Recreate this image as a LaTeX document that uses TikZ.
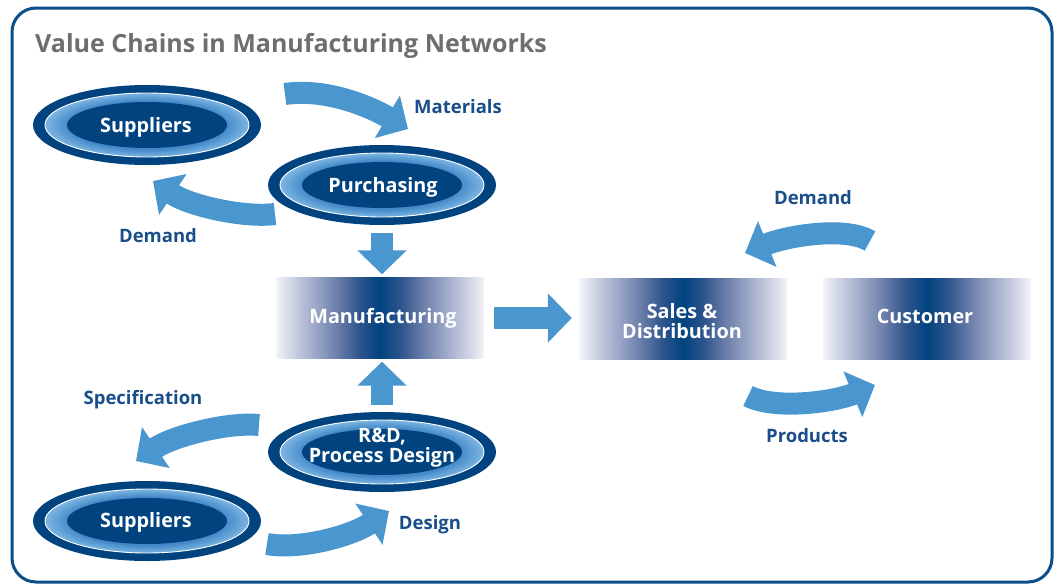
\documentclass[tikz,border=0pt]{standalone}
\usepackage{fontspec}
\setmainfont{Open Sans}
\usetikzlibrary{arrows.meta,shapes.geometric}
\definecolor{navy}{HTML}{00437F}
\definecolor{lblue}{HTML}{4A97CF}
\definecolor{ringlo}{HTML}{4389C8}
\definecolor{ringhi}{HTML}{7DB6E3}
\definecolor{lbl}{HTML}{1A4E8A}
\definecolor{ttl}{HTML}{6D6E71}
\definecolor{framec}{HTML}{0B4E8C}
\definecolor{bzero}{HTML}{F4F5F9}
\definecolor{bhalf}{HTML}{DADEEB}
\definecolor{bone}{HTML}{B7BED6}
\definecolor{btwo}{HTML}{6D80AB}
\definecolor{bthree}{HTML}{2F548C}
\pgfdeclarehorizontalshading{barshade}{100bp}{color(0bp)=(bzero); color(25bp)=(bzero); color(27.5bp)=(bhalf); color(31.5bp)=(bone); color(39.5bp)=(btwo); color(45bp)=(bthree); color(50bp)=(navy); color(55bp)=(bthree); color(60.5bp)=(btwo); color(68.5bp)=(bone); color(72.5bp)=(bhalf); color(75bp)=(bzero); color(100bp)=(bzero)}
\pgfdeclareradialshading{ringshade}{\pgfpoint{0bp}{0bp}}{color(0bp)=(ringlo); color(19bp)=(ringlo); color(25bp)=(ringhi); color(50bp)=(ringhi)}
\tikzset{
  ovalout/.style={ellipse, fill=navy, minimum width=228pt, minimum height=80pt, inner sep=0pt},
  ovalring/.style={ellipse, draw=white, line width=0.9pt, shading=ringshade, minimum width=204pt, minimum height=64pt, inner sep=0pt},
  ovalin/.style={ellipse, fill=navy, minimum width=160pt, minimum height=46pt, inner sep=0pt},
  nodetxt/.style={text=white, font=\bfseries\fontsize{19.8}{20}\selectfont, align=center, inner sep=0pt},
  bar/.style={rectangle, shading=barshade, minimum width=208pt, minimum height=81pt, inner sep=0pt},
  lbltxt/.style={text=lbl, font=\bfseries\fontsize{18.5}{20}\selectfont, inner sep=0pt},
  barrow/.style={draw=lblue, line width=22pt, -{Triangle[width=48pt,length=24pt]}}
}
\newcommand\ovalunit[3]{%
  \node[ovalout] (#1) at (#2,#3) {};
  \node[ovalring] (#1-r) at (#2,#3) {};
  \node[ovalin] (#1-i) at (#2,#3) {};
}
\begin{document}
\begin{tikzpicture}[x=1pt,y=-1pt]
\useasboundingbox (0,0) rectangle (1060,584);
\draw[framec, line width=3pt, rounded corners=24pt] (12,8) rectangle (1052,582);
\node[anchor=base west, text=ttl, font=\bfseries\fontsize{25}{28}\selectfont, inner sep=0pt] (title) at (35,52) {Value Chains in Manufacturing Networks};

% main boxes
\node[bar] (manu) at (380,318) {};
\node[bar] (sales) at (683,319) {};
\node[bar] (cust) at (927,319) {};

% ovals
\ovalunit{supA}{147}{125}
\ovalunit{purch}{382}{185}
\ovalunit{rnd}{382}{452}
\ovalunit{supB}{147}{521}

% texts in shapes
\node[nodetxt, anchor=base] (supAt) at (146,132) {Suppliers};
\node[nodetxt, anchor=base] (purcht) at (383,192) {Purchasing};
\node[nodetxt] (rndt) at (382,448) {R\&D,\\Process Design};
\node[nodetxt, anchor=base] (supBt) at (146,527) {Suppliers};
\node[nodetxt, anchor=base] (manut) at (383,323) {Manufacturing};
\node[nodetxt] (salest) at (682,321) {Sales \&\\Distribution};
\node[nodetxt, anchor=base] (custt) at (925,323) {Customer};

% straight block arrows
\draw[barrow, shorten <=8pt, shorten >=3pt] (purch.south) -- (purch.south |- manu.north);
\draw[barrow, shorten <=7pt, shorten >=3pt] (rnd.north) -- (rnd.north |- manu.south);
\draw[barrow, shorten <=10pt, shorten >=7pt] (manu.east) -- (manu.east -| sales.west);

% curved block arrows
\coordinate (matS) at (285,94);   \coordinate (matE) at (408,129);
\coordinate (demAS) at (275,214); \coordinate (demAE) at (153,181);
\coordinate (demBS) at (870,241); \coordinate (demBE) at (745,253);
\coordinate (prodS) at (748,396); \coordinate (prodE) at (875,385);
\coordinate (specS) at (259,425); \coordinate (specE) at (136,461);
\coordinate (desS) at (267,544);  \coordinate (desE) at (389,511);
\draw[barrow] (matS) .. controls (325,88) and (369,106) .. (matE);
\draw[barrow] (demAS) .. controls (245,218) and (190,206) .. (demAE);
\draw[barrow] (demBS) .. controls (845,226) and (787,236) .. (demBE);
\draw[barrow] (prodS) .. controls (775,410) and (834,402) .. (prodE);
\draw[barrow] (specS) .. controls (228,422) and (173,436) .. (specE);
\draw[barrow] (desS) .. controls (300,550) and (351,536) .. (desE);

% labels
\node[lbltxt, anchor=base] (lmat) at (458,113) {Materials};
\node[lbltxt, anchor=base] (ldemA) at (158,242) {Demand};
\node[lbltxt, anchor=base] (ldemB) at (813,204) {Demand};
\node[lbltxt, anchor=base] (lprod) at (807,442) {Products};
\node[lbltxt, anchor=base] (lspec) at (143,404) {Specification};
\node[lbltxt, anchor=base] (ldes) at (430,529) {Design};
\end{tikzpicture}
\end{document}
